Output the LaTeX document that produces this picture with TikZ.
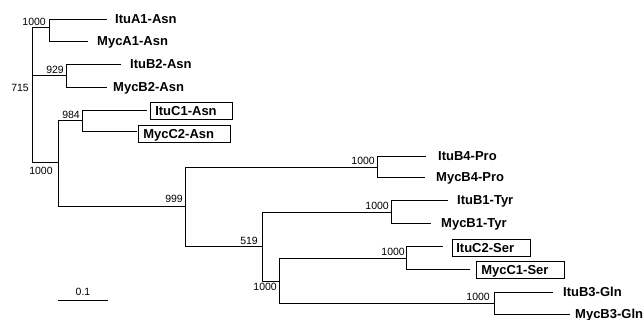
\documentclass[tikz,border=0pt]{standalone}
\usepackage{fontspec}
\setmainfont{Liberation Sans}
\begin{document}
\begin{tikzpicture}[x=1pt,y=-1pt,
  edge/.style={line width=0.9pt},
  leaf/.style={anchor=west,inner sep=0pt,text height=9.3pt,text depth=0pt,font=\fontsize{13}{15}\selectfont\bfseries},
  boxed/.style={draw,line width=0.6pt,anchor=north west,inner xsep=5pt,inner ysep=0pt,minimum height=17pt,text height=9.3pt,text depth=0pt,align=left,font=\fontsize{13}{15}\selectfont\bfseries},
  boot/.style={inner sep=0pt,text height=7.5pt,text depth=0pt,font=\fontsize{10.5}{12}\selectfont}]
\useasboundingbox (0,0) rectangle (644,320);

% internal nodes
\coordinate (nR) at (32,27);
\coordinate (nA) at (49,27);
\coordinate (nB) at (66,75);
\coordinate (nC) at (58,162);
\coordinate (nC1) at (82,120);
\coordinate (nD) at (185,206);
\coordinate (nE) at (377,167);
\coordinate (nF) at (262,246);
\coordinate (nG) at (391,212);
\coordinate (nH) at (279,281);
\coordinate (nI) at (406,258);
\coordinate (nJ) at (494,303);

% tips
\coordinate (tA1) at (107,19);
\coordinate (tA2) at (88,41);
\coordinate (tB1) at (121,64);
\coordinate (tB2) at (107,87);
\coordinate (tC1) at (147,110);
\coordinate (tC2) at (137,131);
\coordinate (tE1) at (426,156);
\coordinate (tE2) at (425,177);
\coordinate (tG1) at (448,200);
\coordinate (tG2) at (431,223);
\coordinate (tI1) at (443,246);
\coordinate (tI2) at (470,269);
\coordinate (tJ1) at (553,292);
\coordinate (tJ2) at (570,314);

% leaf labels
\node[leaf] (lA1) at (115,19) {ItuA1-Asn};
\node[leaf] (lA2) at (97,41) {MycA1-Asn};
\node[leaf] (lB1) at (130,64) {ItuB2-Asn};
\node[leaf] (lB2) at (113,87) {MycB2-Asn};
\node[boxed,text width=72pt] (lC1) at (150,102) {ItuC1-Asn};
\node[boxed,text width=82pt] (lC2) at (138,125) {MycC2-Asn};
\node[leaf] (lE1) at (438,156) {ItuB4-Pro};
\node[leaf] (lE2) at (436,177) {MycB4-Pro};
\node[leaf] (lG1) at (457,200) {ItuB1-Tyr};
\node[leaf] (lG2) at (441,223) {MycB1-Tyr};
\node[boxed,inner xsep=4pt,text width=70pt] (lI1) at (452,239) {ItuC2-Ser};
\node[boxed,text width=78pt] (lI2) at (476,261) {MycC1-Ser};
\node[leaf] (lJ1) at (563,292) {ItuB3-Gln};
\node[leaf] (lJ2) at (575,314) {MycB3-Gln};

% branches
\draw[edge] (nR) |- (nA);
\draw[edge] (nR) |- (nB);
\draw[edge] (nR) |- (nC);
\draw[edge] (nA) |- (tA1);
\draw[edge] (nA) |- (tA2);
\draw[edge] (nB) |- (tB1);
\draw[edge] (nB) |- (tB2);
\draw[edge] (nC) |- (nC1);
\draw[edge] (nC) |- (nD);
\draw[edge] (nC1) |- (tC1);
\draw[edge] (nC1) |- (tC2);
\draw[edge] (nD) |- (nE);
\draw[edge] (nD) |- (nF);
\draw[edge] (nE) |- (tE1);
\draw[edge] (nE) |- (tE2);
\draw[edge] (nF) |- (nG);
\draw[edge] (nF) |- (nH);
\draw[edge] (nG) |- (tG1);
\draw[edge] (nG) |- (tG2);
\draw[edge] (nH) |- (nI);
\draw[edge] (nH) |- (nJ);
\draw[edge] (nI) |- (tI1);
\draw[edge] (nI) |- (tI2);
\draw[edge] (nJ) |- (tJ1);
\draw[edge] (nJ) |- (tJ2);

% bootstrap values
\node[boot,anchor=south east] (bA) at (46,25.5) {1000};
\node[boot,anchor=south east] (bB) at (64,73.5) {929};
\node[boot,anchor=east] (bR) at (29,88) {715};
\node[boot] (bC) at (41,171) {1000};
\node[boot,anchor=south east] (bC1) at (80,119) {984};
\node[boot,anchor=south east] (bD) at (183,203) {999};
\node[boot,anchor=south east] (bE) at (375,164.5) {1000};
\node[boot,anchor=south east] (bF) at (258,244.5) {519};
\node[boot,anchor=south east] (bG) at (389,209.5) {1000};
\node[boot,anchor=south east] (bI) at (405,255.5) {1000};
\node[boot,anchor=south east] (bJ) at (490,300.5) {1000};
\node[boot,anchor=east] (bH) at (277,287) {1000};

% scale bar
\coordinate (sb1) at (58,300);
\coordinate (sb2) at (108,300);
\draw[edge] (sb1) -- (sb2);
\node[boot] (sbl) at (83,292) {0.1};
\end{tikzpicture}
\end{document}
